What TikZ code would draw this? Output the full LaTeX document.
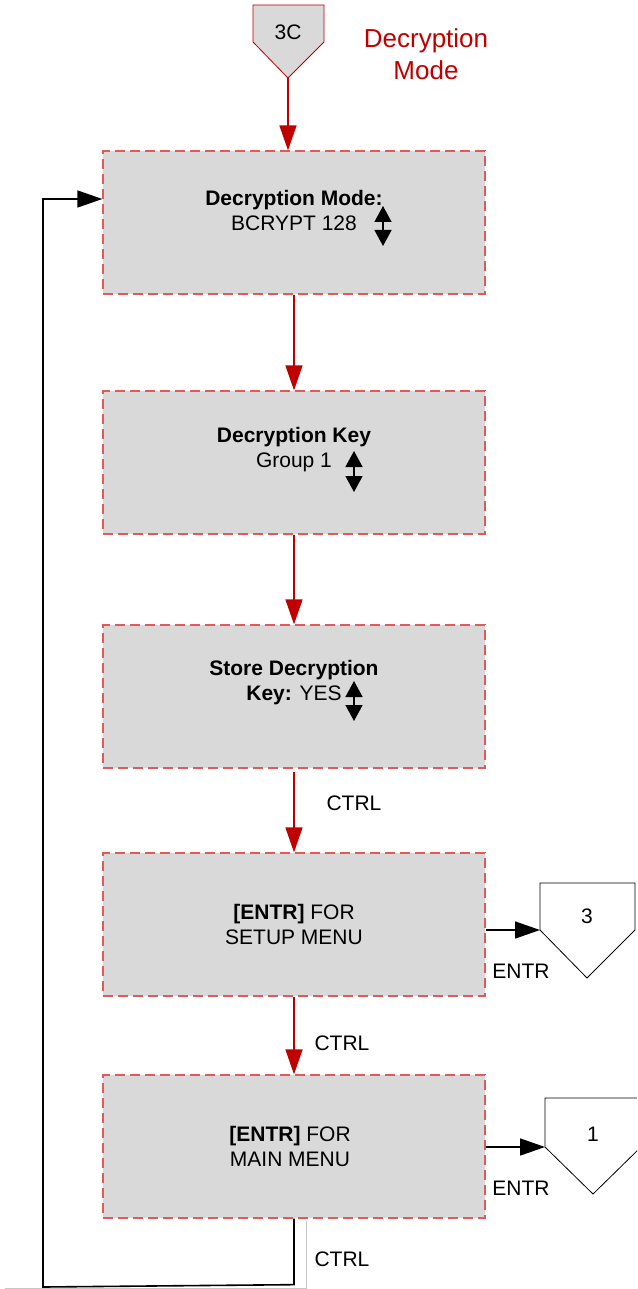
\documentclass[tikz,border=0pt]{standalone}
\usepackage{fontspec}
\setmainfont{Liberation Sans}
\usetikzlibrary{arrows.meta}
\definecolor{boxgray}{HTML}{D9D9D9}
\definecolor{flowred}{HTML}{C00000}
\definecolor{dashred}{HTML}{E05A5A}
\begin{document}
\begin{tikzpicture}[x=1pt,y=-1pt,
  box/.style={draw=dashred,fill=boxgray,line width=1.3pt,dash pattern=on 10pt off 5pt,minimum width=382pt,minimum height=143pt,inner sep=0pt},
  txt/.style={font=\fontsize{21}{25}\selectfont,align=center,inner sep=0pt},
  redflow/.style={draw=flowred,line width=1.6pt,-{Triangle[length=25pt,width=17pt]}},
  blkflow/.style={draw=black,line width=1.6pt,-{Triangle[length=25pt,width=17pt]}},
  updown/.style={line width=1.5pt,{Triangle[length=16pt,width=17pt]}-{Triangle[length=16pt,width=17pt]}},
  offpage/.style={draw=black,line width=0.8pt,fill=white}
]
\useasboundingbox (0,0) rectangle (637,1289);
\clip (0,0) rectangle (637,1289);
% faint guide lines
\draw[gray!45,line width=0.6pt] (5,1288) -- (306,1288) -- (306,1221);
% title
\node[txt,text=flowred,font=\fontsize{26}{32}\selectfont] (title) at (426,54) {Decryption\\Mode};
% 3C connector
\draw[draw=flowred,fill=boxgray,line width=0.8pt] (253,5) -- (324,5) -- (324,42) -- (288,78) -- (253,42) -- cycle;
\coordinate (c3Ctip) at (288,78);
\node[txt] (l3C) at (288,32) {3C};
% boxes
\node[box] (b1) at (294,222.5) {};
\node[box] (b2) at (294,462.5) {};
\node[box] (b3) at (294,696.5) {};
\node[box] (b4) at (294,924.5) {};
\node[box] (b5) at (294,1146.5) {};
% box texts
\node[txt] (t1) at (294,210) {\textbf{Decryption Mode:}\\BCRYPT 128};
\draw[updown] (383,206) -- (383,246);
\node[txt] (t2) at (294,450) {\textbf{Decryption Key}\\Group 1};
\draw[updown] (354,451) -- (354,492);
\node[txt] (t3) at (294,683) {\textbf{Store Decryption}\\\textbf{Key:} YES};
\draw[updown] (354,681) -- (354,721);
\node[txt] (t4) at (294,924) {\textbf{[ENTR]} FOR\\SETUP MENU};
\node[txt] (t5) at (290,1146) {\textbf{[ENTR]} FOR\\MAIN MENU};
% off-page connectors
\draw[offpage] (540,883) -- (635,883) -- (635,930) -- (587,978) -- (540,930) -- cycle;
\coordinate (c3in) at (540,930);
\node[txt] (l3) at (587,916) {3};
\draw[offpage] (545,1098) -- (641,1098) -- (641,1147) -- (593,1194) -- (545,1147) -- cycle;
\coordinate (c1in) at (545,1147);
\node[txt] (l1) at (593,1134) {1};
% red flow
\draw[redflow] (c3Ctip) -- (c3Ctip |- b1.north);
\draw[redflow] (b1.south) -- (b2.north);
\draw[redflow] (b2.south) -- (b3.north);
\draw[redflow] ([yshift=-3pt]b3.south) -- (b4.north);
\draw[redflow] (b4.south) -- (b5.north);
% labels
\node[txt] (ctrl1) at (354,803) {CTRL};
\node[txt] (ctrl2) at (342,1043) {CTRL};
\node[txt] (ctrl3) at (342,1259) {CTRL};
\node[txt] (entr1) at (521,971) {ENTR};
\node[txt] (entr2) at (521,1188) {ENTR};
% black flows
\draw[blkflow] ([yshift=-5.5pt]b4.east) -- (c3in);
\draw[blkflow] (b5.east |- c1in) -- (c1in);
\draw[blkflow] (b5.south) -- ++(0,66) -- (43,1287) -- (43,199) -- ([yshift=23.5pt]b1.west);
\end{tikzpicture}
\end{document}
